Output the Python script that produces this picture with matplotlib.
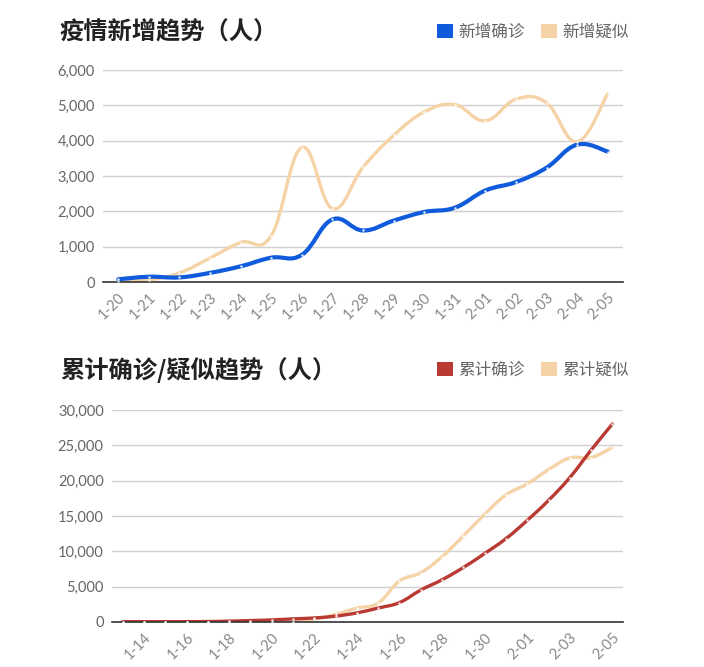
import numpy as np
import matplotlib.pyplot as plt
from matplotlib.path import Path
from matplotlib.patches import PathPatch, Patch

plt.rcParams['font.family'] = ['Noto Sans CJK SC', 'DejaVu Sans']

# 新增数据
dias_nuevos = ['1-20', '1-21', '1-22', '1-23', '1-24', '1-25', '1-26', '1-27', '1-28',
               '1-29', '1-30', '1-31', '2-01', '2-02', '2-03', '2-04', '2-05']
nuevo_confirmado = [77, 149, 131, 259, 444, 688, 769, 1771, 1459, 1737, 1982, 2102,
                    2590, 2829, 3235, 3887, 3694]
nuevo_sospechoso = [27, 60, 257, 680, 1118, 1309, 3806, 2077, 3248, 4148, 4812, 5019,
                    4562, 5173, 5072, 3971, 5328]

# 累计数据
dias_acum = ['1-13', '1-14', '1-15', '1-16', '1-17', '1-18', '1-19', '1-20', '1-21',
             '1-22', '1-23', '1-24', '1-25', '1-26', '1-27', '1-28', '1-29', '1-30',
             '1-31', '2-01', '2-02', '2-03', '2-04', '2-05']
acum_confirmado = [41, 41, 41, 45, 62, 121, 198, 291, 440, 571, 830, 1287, 1975, 2744,
                   4515, 5974, 7711, 9692, 11791, 14380, 17205, 20438, 24324, 28018]
acum_sospechoso = [0, 0, 0, 0, 0, 0, 0, 0, 0, 393, 1072, 1965, 2684, 5794, 6973, 9239,
                   12167, 15238, 17988, 19544, 21558, 23214, 23260, 24702]

AZUL = '#0f5bdc'
BEIGE = '#f5d3a6'
ROJO = '#b83a33'
GRIS = '#666666'


def curva_suave(ax, y, color, lw, s=0.2):
    # 用三次贝塞尔曲线画平滑折线
    y = np.asarray(y, dtype=float)
    x = np.arange(len(y), dtype=float)
    pts = np.column_stack([x, y])
    verts = [pts[0]]
    codes = [Path.MOVETO]
    n = len(pts)
    for i in range(n - 1):
        p0 = pts[max(i - 1, 0)]
        p1 = pts[i]
        p2 = pts[i + 1]
        p3 = pts[min(i + 2, n - 1)]
        c1 = p1 + (p2 - p0) * s
        c2 = p2 - (p3 - p1) * s
        verts += [c1, c2, p2]
        codes += [Path.CURVE4] * 3
    ax.add_patch(PathPatch(Path(verts, codes), fill=False, edgecolor=color, lw=lw,
                           capstyle='round', joinstyle='round'))
    ax.plot(x, y, 'o', ms=1.8, color='white', mec='none', alpha=0.85, zorder=5)


def estilo(ax, dias, ymax, paso, etiquetas):
    ax.set_xlim(-0.5, len(dias) - 0.5)
    ax.set_ylim(0, ymax)
    ax.set_yticks(np.arange(0, ymax + 1, paso))
    ax.set_yticklabels([f'{v:,}' for v in np.arange(0, ymax + 1, paso)],
                       family=['Lato', 'DejaVu Sans'], fontsize=10.5, color=GRIS)
    ax.set_xticks(etiquetas)
    ax.set_xticklabels([dias[i] for i in etiquetas], rotation=45, ha='right',
                       rotation_mode='anchor', family=['Lato', 'DejaVu Sans'],
                       fontsize=10.5, color='#888888')
    ax.tick_params(length=0, axis='both', pad=6)
    ax.grid(axis='y', color='#d0d0d0', lw=1)
    ax.set_axisbelow(True)
    for lado in ['top', 'right', 'left']:
        ax.spines[lado].set_visible(False)
    ax.spines['bottom'].set_color('#333333')
    ax.spines['bottom'].set_linewidth(1.2)


fig = plt.figure(figsize=(7.04, 6.67), dpi=100)

ax1 = fig.add_axes([0.1463, 0.5772, 0.7386, 0.3178])
curva_suave(ax1, nuevo_sospechoso, BEIGE, 2.4)
curva_suave(ax1, nuevo_confirmado, AZUL, 3.0)
estilo(ax1, dias_nuevos, 6000, 1000, list(range(len(dias_nuevos))))

ax2 = fig.add_axes([0.1591, 0.0675, 0.7259, 0.3178])
curva_suave(ax2, acum_sospechoso, BEIGE, 2.4)
curva_suave(ax2, acum_confirmado, ROJO, 2.4)
estilo(ax2, dias_acum, 30000, 5000, list(range(1, len(dias_acum), 2)))

fig.text(0.085, 0.952, '疫情新增趋势（人）', fontsize=17.5, fontweight='bold',
         color='#222222', va='center')
fig.text(0.085, 0.4445, '累计确诊/疑似趋势（人）', fontsize=17.5, fontweight='bold',
         color='#222222', va='center')

for y_leg, nombres, colores in [(0.952, ['新增确诊', '新增疑似'], [AZUL, BEIGE]),
                                (0.4445, ['累计确诊', '累计疑似'], [ROJO, BEIGE])]:
    manejadores = [Patch(facecolor=c, edgecolor='none', label=n)
                   for c, n in zip(colores, nombres)]
    fig.legend(handles=manejadores, loc='center right', bbox_to_anchor=(0.902, y_leg),
               ncol=2, frameon=False, fontsize=12, labelcolor=GRIS,
               handlelength=0.95, handleheight=0.95, handletextpad=0.3,
               columnspacing=1.0, borderaxespad=0)

fig.savefig('out.png', dpi=100, facecolor='white')
